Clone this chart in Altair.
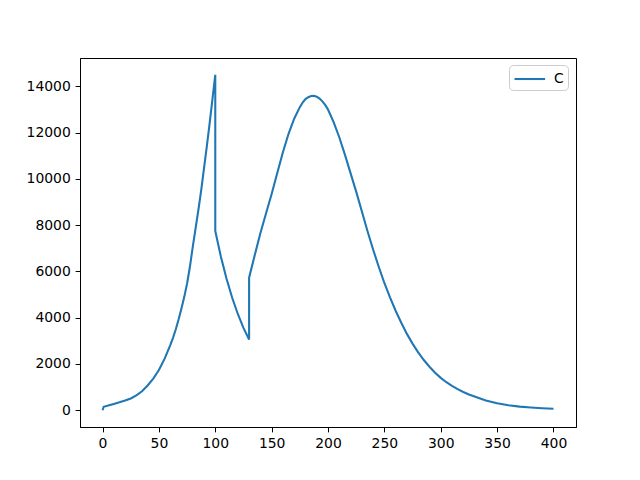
import altair as alt
import pandas as pd

# x positions (days) and values C, in drawing order (jumps have repeated x)
xs = [0, 1, 5, 10, 15, 20, 25, 30, 35, 40, 45, 50, 55, 60, 62.5, 65, 67.5, 70, 72.5, 75,
      77.5, 80, 82.5, 85, 87.5, 90, 92.5, 95, 97.5, 100,
      100, 105, 110, 115, 120, 125, 130,
      130, 135, 140, 145, 150, 155, 160, 165, 170, 175, 177.5, 180, 182.5, 185, 187.5, 190,
      192.5, 195, 197.5, 200, 205, 210, 215, 220, 225, 230, 235, 240, 245, 250, 255, 260,
      265, 270, 275, 280, 285, 290, 295, 300, 305, 310, 315, 320, 325, 330, 340, 350, 360,
      370, 380, 390, 400]
cs = [0, 150, 200, 270, 340, 420, 510, 640, 820, 1070, 1370, 1740, 2220, 2800, 3130, 3500,
      3930, 4400, 4900, 5480, 6200, 7050, 7850, 8650, 9500, 10450, 11400, 12400, 13450, 14500,
      7750, 6630, 5680, 4860, 4160, 3560, 3055,
      5730, 6700, 7650, 8500, 9350, 10250, 11150, 11950, 12600, 13100, 13300, 13450, 13530,
      13580, 13590, 13550, 13470, 13350, 13200, 13000, 12450, 11800, 11050, 10250, 9450, 8600,
      7750, 6950, 6200, 5500, 4880, 4300, 3780, 3300, 2880, 2500, 2170, 1880, 1620, 1400,
      1210, 1050, 910, 790, 680, 590, 420, 300, 215, 155, 115, 85, 65]
series = ["C"] * len(xs)

df = pd.DataFrame({"x": xs, "C": cs, "series": series, "order": list(range(len(xs)))})

FONT = "DejaVu Sans"

chart = (
    alt.Chart(df)
    .mark_line(strokeWidth=2.08, clip=True)
    .encode(
        x=alt.X("x:Q", scale=alt.Scale(domain=[-20, 420], nice=False, zero=False),
                axis=alt.Axis(values=[0, 50, 100, 150, 200, 250, 300, 350, 400], title=None,
                              format="d", grid=False)),
        y=alt.Y("C:Q", scale=alt.Scale(domain=[-725, 15225], nice=False, zero=False),
                axis=alt.Axis(values=[0, 2000, 4000, 6000, 8000, 10000, 12000, 14000],
                              title=None, format="d", grid=False)),
        color=alt.Color("series:N", scale=alt.Scale(range=["#1f77b4"]),
                        legend=alt.Legend(title=None, orient="none", legendX=429, legendY=7,
                                          fillColor="white", strokeColor="#cccccc",
                                          cornerRadius=4, padding=4,
                                          symbolType="M-1,0H2.6",
                                          symbolSize=289, symbolStrokeWidth=2.08,
                                          labelOffset=21, labelFont=FONT, labelFontSize=13.9,
                                          labelColor="black")),
        order="order:Q",
    )
    .properties(width=496, height=369,
                autosize=alt.AutoSizeParams(type="none"),
                padding={"left": 72, "top": 50, "right": 56, "bottom": 45})
    .configure_view(stroke="black", strokeWidth=1)
    .configure_axis(domainColor="black", domainWidth=1, tickColor="black", tickSize=4.86,
                    tickWidth=1, labelFont=FONT, labelFontSize=13.9, labelColor="black",
                    labelPadding=4.86)
)

chart.save("out.html", embed_options={"renderer": "svg", "actions": False})
